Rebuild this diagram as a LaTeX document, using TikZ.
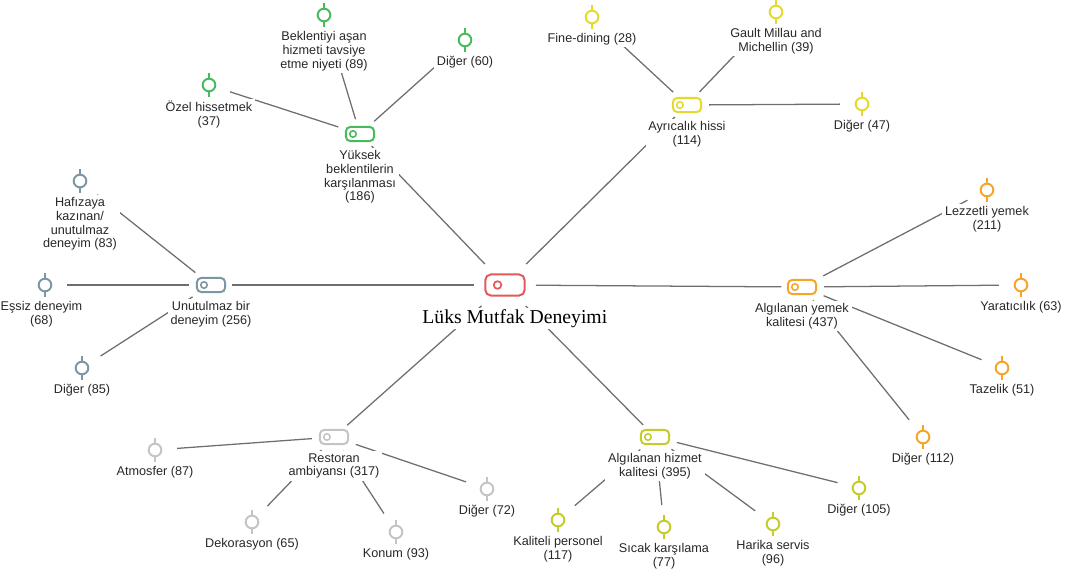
\documentclass[tikz,border=0pt]{standalone}
\usepackage{fontspec}
\setmainfont{Liberation Sans}
\newfontfamily\titlefont{Liberation Serif}
\usetikzlibrary{positioning,backgrounds}
\definecolor{cgreen}{RGB}{72,186,92}
\definecolor{cyellow}{RGB}{228,218,44}
\definecolor{clime}{RGB}{196,204,42}
\definecolor{corange}{RGB}{246,164,42}
\definecolor{cslate}{RGB}{125,150,164}
\definecolor{cgrey}{RGB}{196,196,196}
\definecolor{cred}{RGB}{228,88,88}
\definecolor{cedge}{RGB}{110,110,110}
\definecolor{ctext}{RGB}{40,40,40}

\begin{document}
\begin{tikzpicture}[x=0.025cm,y=-0.025cm,
	core/.style={draw=cred,line width=1.4pt,rounded corners=4pt,minimum width=28pt,minimum height=15pt,inner sep=0pt,outer sep=6pt,fill=white,
		label={[circle,draw=cred,line width=1.2pt,inner sep=0pt,minimum size=5.4pt,xshift=-5.3pt]center:}},
	hub/.style={draw=#1,line width=1.4pt,rounded corners=3pt,minimum width=20pt,minimum height=10pt,inner sep=0pt,fill=white,
		label={[circle,draw=#1,line width=1.1pt,inner sep=0pt,minimum size=4.6pt,xshift=-5pt]center:}},
	leaf/.style={circle,draw=#1,line width=1.4pt,fill=white,inner sep=0pt,minimum size=9pt,
		append after command={(\tikzlastnode.north) edge[draw=#1,line width=1.4pt] ++(0,3.5pt)
			(\tikzlastnode.south) edge[draw=#1,line width=1.4pt] ++(0,-3.5pt)}},
	txt/.style={align=center,fill=white,inner xsep=2pt,inner ysep=1.5pt,text=ctext,font=\fontsize{9}{9.8}\selectfont},
	link/.style={draw=cedge,line width=0.9pt,shorten <=10.5pt,shorten >=5pt},
	spoke/.style={draw=cedge,line width=0.9pt,shorten <=2pt,shorten >=4pt}]
	\useasboundingbox (0,0) rectangle (1065,573);

	\node[core] (lmd) at (505,285) {};
	\node[below=3pt of lmd,xshift=7pt,fill=white,inner sep=1pt,font=\titlefont\fontsize{14}{16}\selectfont] (lmdt) {Lüks Mutfak Deneyimi};

	\node[hub=cgreen] (yb) at (360,134) {};
	\node[txt,below=4.2pt of yb] (ybt) {Yüksek\\beklentilerin\\karşılanması\\(186)};
	\node[leaf=cgreen] (oz) at (209,85) {};
	\node[txt,below=4.7pt of oz] (ozt) {Özel hissetmek\\(37)};
	\node[leaf=cgreen] (bn) at (324,15) {};
	\node[txt,below=4.7pt of bn] (bnt) {Beklentiyi aşan\\hizmeti tavsiye\\etme niyeti (89)};
	\node[leaf=cgreen] (dg1) at (465,40) {};
	\node[txt,below=4.7pt of dg1] (dg1t) {Diğer (60)};

	\node[hub=cyellow] (ah) at (687,105) {};
	\node[txt,below=4.2pt of ah] (aht) {Ayrıcalık hissi\\(114)};
	\node[leaf=cyellow] (fd) at (592,17) {};
	\node[txt,below=4.7pt of fd] (fdt) {Fine-dining (28)};
	\node[leaf=cyellow] (gm) at (776,12) {};
	\node[txt,below=4.7pt of gm] (gmt) {Gault Millau and\\Michellin (39)};
	\node[leaf=cyellow] (dg2) at (862,104) {};
	\node[txt,below=4.7pt of dg2] (dg2t) {Diğer (47)};

	\node[hub=cslate] (ud) at (211,285) {};
	\node[txt,below=4.2pt of ud] (udt) {Unutulmaz bir\\deneyim (256)};
	\node[leaf=cslate] (hz) at (80,181) {};
	\node[txt,below=4.7pt of hz] (hzt) {Hafızaya\\kazınan/\\unutulmaz\\deneyim (83)};
	\node[leaf=cslate] (es) at (45,285) {};
	\node[txt,below=4.7pt of es,xshift=-2.5pt] (est) {Eşsiz deneyim\\(68)};
	\node[leaf=cslate] (dg3) at (82,368) {};
	\node[txt,below=4.7pt of dg3] (dg3t) {Diğer (85)};

	\node[hub=corange] (ay) at (802,287) {};
	\node[txt,below=4.2pt of ay] (ayt) {Algılanan yemek\\kalitesi (437)};
	\node[leaf=corange] (lz) at (987,190) {};
	\node[txt,below=4.7pt of lz] (lzt) {Lezzetli yemek\\(211)};
	\node[leaf=corange] (yr) at (1021,285) {};
	\node[txt,below=4.7pt of yr] (yrt) {Yaratıcılık (63)};
	\node[leaf=corange] (tz) at (1002,368) {};
	\node[txt,below=4.7pt of tz] (tzt) {Tazelik (51)};
	\node[leaf=corange] (dg4) at (923,437) {};
	\node[txt,below=4.7pt of dg4] (dg4t) {Diğer (112)};

	\node[hub=cgrey] (ra) at (334,437) {};
	\node[txt,below=4.2pt of ra] (rat) {Restoran\\ambiyansı (317)};
	\node[leaf=cgrey] (am) at (155,450) {};
	\node[txt,below=4.7pt of am] (amt) {Atmosfer (87)};
	\node[leaf=cgrey] (dk) at (252,522) {};
	\node[txt,below=4.7pt of dk] (dkt) {Dekorasyon (65)};
	\node[leaf=cgrey] (kn) at (396,532) {};
	\node[txt,below=4.7pt of kn] (knt) {Konum (93)};
	\node[leaf=cgrey] (dg5) at (487,489) {};
	\node[txt,below=4.7pt of dg5] (dg5t) {Diğer (72)};

	\node[hub=clime] (hk) at (655,437) {};
	\node[txt,below=4.2pt of hk] (hkt) {Algılanan hizmet\\kalitesi (395)};
	\node[leaf=clime] (kp) at (558,520) {};
	\node[txt,below=4.7pt of kp] (kpt) {Kaliteli personel\\(117)};
	\node[leaf=clime] (sk) at (664,527) {};
	\node[txt,below=4.7pt of sk] (skt) {Sıcak karşılama\\(77)};
	\node[leaf=clime] (hs) at (773,524) {};
	\node[txt,below=4.7pt of hs] (hst) {Harika servis\\(96)};
	\node[leaf=clime] (dg6) at (859,488) {};
	\node[txt,below=4.7pt of dg6] (dg6t) {Diğer (105)};

	\begin{scope}[on background layer]
		\path (lmd) edge[spoke] (yb)
			(lmd) edge[spoke] (ah)
			(lmd) edge[spoke] (ud)
			(lmd) edge[spoke] (ay)
			(lmd) edge[spoke] (ra)
			(lmd) edge[spoke] (hk);
		\path (oz) edge[link] (yb)
			(bn) edge[link] (yb)
			(dg1) edge[link] (yb)
			(fd) edge[link] (ah)
			(gm) edge[link] (ah)
			(dg2) edge[link] (ah)
			(hz) edge[link] (ud)
			(es) edge[link] (ud)
			(dg3) edge[link] (ud)
			(lz) edge[link] (ay)
			(yr) edge[link] (ay)
			(tz) edge[link] (ay)
			(dg4) edge[link] (ay)
			(am) edge[link] (ra)
			(dk) edge[link] (ra)
			(kn) edge[link] (ra)
			(dg5) edge[link] (ra)
			(kp) edge[link] (hk)
			(sk) edge[link] (hk)
			(hs) edge[link] (hk)
			(dg6) edge[link] (hk);
	\end{scope}
\end{tikzpicture}
\end{document}
